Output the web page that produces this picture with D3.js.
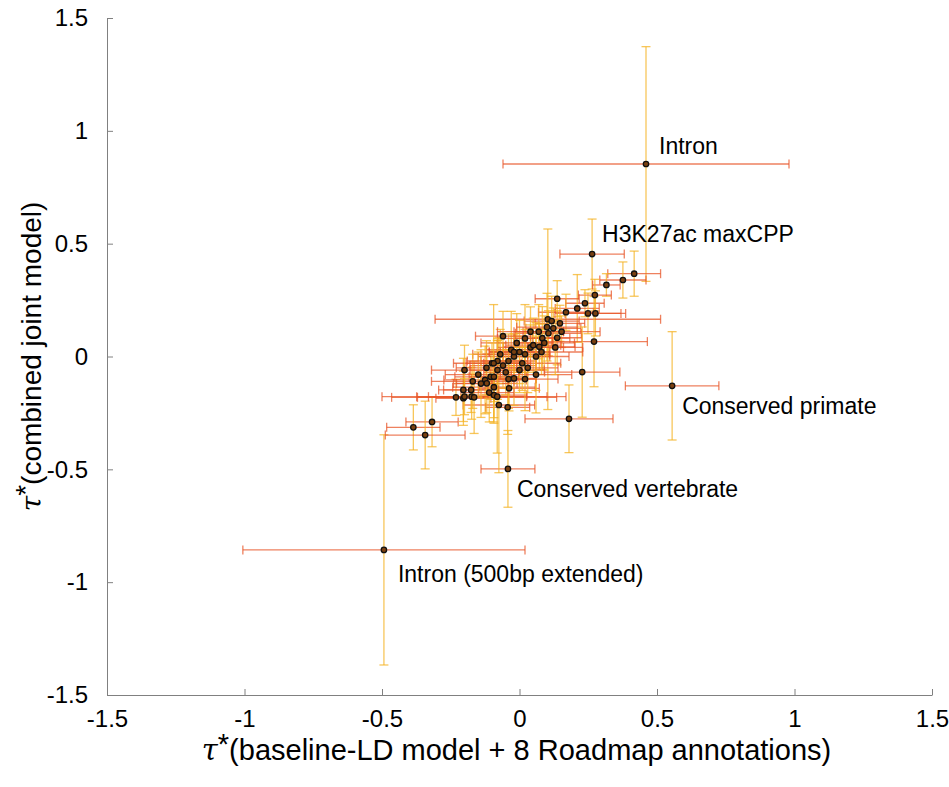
<!DOCTYPE html>
<html>
<head>
<meta charset="utf-8">
<script src="https://d3js.org/d3.v7.min.js"></script>
<style>
  body { margin: 0; background: #fff; }
  text { font-family: "Liberation Sans", Arial, Helvetica, sans-serif; fill: #000; }
</style>
</head>
<body>
<div id="mainer"></div>
<script>
const width = 949, height = 787;

// tau* estimates: x = baseline-LD + 8 Roadmap, y = combined joint model
const tauX = [0.46, 0.264, 0.555, -0.042, -0.493, 0.417, 0.376, 0.316, 0.274, 0.238,
  0.21, 0.137, 0.169, 0.249, 0.276, 0.103, 0.117, 0.147, 0.123, 0.153,
  0.105, 0.137, 0.083, 0.271, 0.072, 0.228, 0.18, -0.043, -0.075, -0.318,
  -0.386, -0.343, -0.204, -0.231, -0.174, -0.165, -0.204, -0.176, -0.093, -0.081,
  -0.125, -0.119, -0.105, -0.093, -0.093, -0.038, -0.02, -0.2, -0.06, -0.04,
  -0.02, 0.0, 0.02, 0.04, -0.08, 0.01, -0.03, 0.05, 0.06, -0.05,
  0.03, -0.01, -0.1, 0.09, -0.07, 0.0, 0.02, -0.12, -0.15, 0.08,
  -0.04, 0.04, -0.14, 0.1, -0.02, 0.06, -0.11, 0.13, -0.06, -0.17,
  0.02, 0.07, -0.08, -0.2, -0.094];
const tauY = [0.853, 0.454, -0.13, -0.498, -0.857, 0.367, 0.339, 0.317, 0.272, 0.236,
  0.213, 0.256, 0.196, 0.191, 0.191, 0.165, 0.157, 0.147, 0.125, 0.11,
  0.103, 0.083, 0.081, 0.066, 0.043, -0.069, -0.276, -0.225, -0.215, -0.29,
  -0.314, -0.348, -0.185, -0.181, -0.178, -0.181, -0.148, -0.148, -0.171, -0.178,
  -0.104, -0.119, -0.09, -0.09, -0.136, -0.141, -0.097, -0.178, -0.04, -0.02,
  0.0, 0.02, 0.01, 0.04, -0.06, -0.03, 0.03, 0.05, 0.0, -0.07,
  -0.05, 0.06, -0.03, 0.06, 0.01, -0.06, 0.08, -0.05, -0.08, 0.02,
  -0.1, 0.11, -0.12, 0.13, 0.02, -0.08, -0.16, 0.04, 0.09, -0.11,
  -0.1, 0.11, -0.02, -0.06, -0.03];
const seX = [0.52, 0.117, 0.17, 0.098, 0.513, 0.096, 0.084, 0.05, 0.06, 0.07,
  0.08, 0.08, 0.1, 0.12, 0.11, 0.41, 0.1, 0.09, 0.1, 0.14,
  0.12, 0.09, 0.1, 0.194, 0.13, 0.137, 0.16, 0.08, 0.13, 0.095,
  0.097, 0.145, 0.1, 0.14, 0.2, 0.3, 0.09, 0.1, 0.12, 0.25,
  0.15, 0.11, 0.13, 0.09, 0.15, 0.11, 0.08, 0.3, 0.12, 0.1,
  0.13, 0.11, 0.09, 0.12, 0.1, 0.14, 0.09, 0.1, 0.12, 0.08,
  0.11, 0.13, 0.14, 0.11, 0.1, 0.09, 0.1, 0.11, 0.12, 0.15,
  0.1, 0.12, 0.1, 0.11, 0.09, 0.13, 0.09, 0.1, 0.1, 0.15,
  0.12, 0.09, 0.11, 0.12, 0.1];
const seY = [0.52, 0.155, 0.24, 0.17, 0.51, 0.1, 0.08, 0.05, 0.07, 0.06,
  0.15, 0.08, 0.08, 0.09, 0.1, 0.4, 0.11, 0.08, 0.09, 0.07,
  0.1, 0.12, 0.14, 0.2, 0.1, 0.2, 0.15, 0.12, 0.3, 0.11,
  0.1, 0.15, 0.12, 0.08, 0.1, 0.16, 0.14, 0.1, 0.1, 0.25,
  0.15, 0.13, 0.1, 0.11, 0.16, 0.1, 0.12, 0.08, 0.1, 0.12,
  0.09, 0.14, 0.11, 0.1, 0.13, 0.12, 0.17, 0.12, 0.15, 0.1,
  0.11, 0.13, 0.09, 0.12, 0.11, 0.1, 0.15, 0.12, 0.1, 0.1,
  0.13, 0.11, 0.15, 0.15, 0.08, 0.17, 0.13, 0.12, 0.11, 0.12,
  0.14, 0.12, 0.1, 0.11, 0.26];

// labelled annotations: index into the arrays above
const labelIdx = [0, 1, 2, 3, 4];
const labelText = ["Intron", "H3K27ac maxCPP", "Conserved primate", "Conserved vertebrate", "Intron (500bp extended)"];
const labelDx = [13, 10, 10, 9, 14];
const labelDy = [-10, -12, 28, 28, 32];

const ticks = [-1.5, -1, -0.5, 0, 0.5, 1, 1.5];

const margin = {left: 107, right: 17, top: 18, bottom: 92};

const svg = d3.select("#mainer").append("svg")
  .attr("width", width).attr("height", height);

const xScale = d3.scaleLinear().domain([-1.5, 1.5]).range([margin.left, width - margin.right]);
const yScale = d3.scaleLinear().domain([-1.5, 1.5]).range([height - margin.bottom, margin.top]);

const xAxis = d3.axisBottom(xScale).tickValues(ticks).tickSizeInner(-6).tickSizeOuter(0)
  .tickPadding(15).tickFormat(d3.format("~g"));
const yAxis = d3.axisLeft(yScale).tickValues(ticks).tickSizeInner(-6).tickSizeOuter(0)
  .tickPadding(19).tickFormat(d3.format("~g"));

const gx = svg.append("g").attr("transform", `translate(0,${height - margin.bottom})`).call(xAxis);
const gy = svg.append("g").attr("transform", `translate(${margin.left},0)`).call(yAxis);
[gx, gy].forEach(g => {
  g.attr("font-size", null);
  g.select(".domain").attr("stroke", "#808080").attr("stroke-width", 1);
  g.selectAll(".tick line").attr("stroke", "#808080");
  g.selectAll(".tick text").style("font-size", "24px").attr("fill", "#000")
    .text(d => d3.format("~g")(d).replace("−", "-"));
});

const data = tauX.map((x, i) => ({x: x, y: tauY[i], ex: seX[i], ey: seY[i]}));

const hCol = "#e8572a", vCol = "#f4b324";
const bars = svg.append("g");
data.forEach(d => {
  const cx = xScale(d.x), cy = yScale(d.y);
  const x0 = xScale(d.x - d.ex), x1 = xScale(d.x + d.ex);
  const y0 = yScale(d.y - d.ey), y1 = yScale(d.y + d.ey);
  const h = bars.append("g").attr("stroke", hCol).attr("stroke-opacity", 0.75).attr("stroke-width", 1.3);
  h.append("line").attr("x1", x0).attr("x2", x1).attr("y1", cy).attr("y2", cy);
  h.append("line").attr("x1", x0).attr("x2", x0).attr("y1", cy - 4.5).attr("y2", cy + 4.5);
  h.append("line").attr("x1", x1).attr("x2", x1).attr("y1", cy - 4.5).attr("y2", cy + 4.5);
  const v = bars.append("g").attr("stroke", vCol).attr("stroke-opacity", 0.75).attr("stroke-width", 1.3);
  v.append("line").attr("x1", cx).attr("x2", cx).attr("y1", y0).attr("y2", y1);
  v.append("line").attr("x1", cx - 4.5).attr("x2", cx + 4.5).attr("y1", y0).attr("y2", y0);
  v.append("line").attr("x1", cx - 4.5).attr("x2", cx + 4.5).attr("y1", y1).attr("y2", y1);
});

svg.append("g").selectAll("circle")
  .data(data)
  .enter().append("circle")
  .attr("cx", d => xScale(d.x))
  .attr("cy", d => yScale(d.y))
  .attr("r", 2.7)
  .attr("fill", "#7a4010")
  .attr("stroke", "#111")
  .attr("stroke-width", 1.3);

svg.append("g").selectAll("text")
  .data(labelIdx)
  .enter().append("text")
  .attr("x", (d, i) => xScale(tauX[d]) + labelDx[i])
  .attr("y", (d, i) => yScale(tauY[d]) + labelDy[i])
  .style("font-size", "23px")
  .text((d, i) => labelText[i]);

// axis labels
const xl = svg.append("text")
  .attr("x", xScale(0) - 3).attr("y", 760)
  .attr("text-anchor", "middle")
  .style("font-size", "29px");
xl.append("tspan").style("font-family", "'DejaVu Serif', serif").style("font-style", "italic").text("τ");
xl.append("tspan").attr("dy", -6).text("*");
xl.append("tspan").attr("dy", 6).text("(baseline-LD model + 8 Roadmap annotations)");

const yl = svg.append("text")
  .attr("transform", `translate(41,${yScale(0)}) rotate(-90)`)
  .attr("text-anchor", "middle")
  .style("font-size", "28px");
yl.append("tspan").style("font-family", "'DejaVu Serif', serif").style("font-style", "italic").text("τ");
yl.append("tspan").attr("dy", -6).text("*");
yl.append("tspan").attr("dy", 6).text("(combined joint model)");
</script>
</body>
</html>
